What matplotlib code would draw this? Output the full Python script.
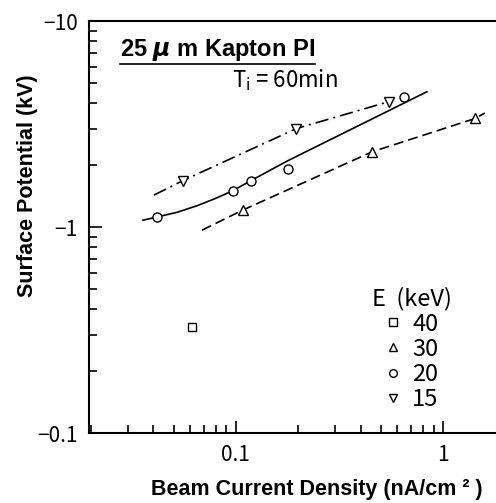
import numpy as np
import matplotlib
matplotlib.use("Agg")
import matplotlib.pyplot as plt
from matplotlib.lines import Line2D
from matplotlib.ticker import FixedLocator, LogLocator, NullFormatter

# measured points (beam current density nA/cm2, surface potential kV)
x_40 = [0.0614]
v_40 = [-0.328]
x_30 = [0.108, 0.454, 1.43]
v_30 = [-1.21, -2.32, -3.37]
x_20 = [0.0416, 0.0964, 0.118, 0.178, 0.644]
v_20 = [-1.12, -1.50, -1.68, -1.91, -4.29]
x_15 = [0.0554, 0.196, 0.546]
v_15 = [-1.68, -3.01, -4.06]

# hand drawn fit curves
fit_x_30 = [0.0687, 0.108, 0.454, 1.43, 1.59]
fit_v_30 = [-0.967, -1.21, -2.32, -3.37, -3.58]
fit_x_20 = [0.0356, 0.0416, 0.052, 0.065, 0.080, 0.0964, 0.118, 0.178, 0.835]
fit_v_20 = [-1.08, -1.12, -1.18, -1.27, -1.38, -1.50, -1.68, -2.10, -4.54]
fit_x_15 = [0.0402, 0.0554, 0.196, 0.546]
fit_v_15 = [-1.43, -1.68, -3.01, -4.06]

energies = ["40", "30", "20", "15"]
markers = ["s", "^", "o", "v"]

x_ticks = [0.1, 1]
x_ticklabels = ["0.1", "1"]
y_ticks = [0.1, 1, 10]
y_ticklabels = ["\u22120.1", "\u22121", "\u221210"]

jp = ["Noto Sans CJK JP", "DejaVu Sans"]
bold = ["Liberation Sans", "DejaVu Sans"]

fig = plt.figure(figsize=(4.96, 5.03), dpi=100)
ax = fig.add_axes([0.179, 0.139, 0.821, 0.819])

lw = 1.2
ax.plot(fit_x_20, -np.array(fit_v_20), color="black", lw=lw, ls="-")
ax.plot(fit_x_30, -np.array(fit_v_30), color="black", lw=lw, dashes=(6, 3))
ax.plot(fit_x_15, -np.array(fit_v_15), color="black", lw=lw, dashes=(8, 3, 1.2, 3))

mk = dict(ls="none", mfc="white", mec="black", mew=1.0, zorder=3)
ax.plot(x_40, -np.array(v_40), marker="s", ms=6, **mk)
ax.plot(x_30, -np.array(v_30), marker="^", ms=7, **mk)
ax.plot(x_20, -np.array(v_20), marker="o", ms=6.5, **mk)
ax.plot(x_15, -np.array(v_15), marker="v", ms=7, **mk)

ax.set_xscale("log")
ax.set_yscale("log")
ax.set_xlim(0.0195, 1.8)
ax.set_ylim(0.1, 10)

ax.xaxis.set_major_locator(FixedLocator(x_ticks))
ax.set_xticklabels(x_ticklabels, family=jp, fontsize=15)
ax.xaxis.set_minor_locator(LogLocator(base=10, subs=np.arange(2, 10)))
ax.xaxis.set_minor_formatter(NullFormatter())
ax.yaxis.set_major_locator(FixedLocator(y_ticks))
ax.set_yticklabels(y_ticklabels, family=jp, fontsize=15)
ax.yaxis.set_minor_locator(LogLocator(base=10, subs=np.arange(2, 10)))
ax.yaxis.set_minor_formatter(NullFormatter())

ax.tick_params(which="both", direction="in", width=1.2, color="black")
ax.tick_params(which="major", length=9, pad=8)
ax.tick_params(which="minor", length=6)
ax.tick_params(axis="x", which="both", top=False)
ax.tick_params(axis="y", which="both", right=False)

for s in ["left", "bottom", "top"]:
    ax.spines[s].set_linewidth(1.5)
ax.spines["right"].set_visible(False)

ax.set_xlabel("Beam Current Density (nA/cm \u00b2 )", family=bold,
              fontweight="bold", fontsize=15.5)
ax.xaxis.set_label_coords(0.56, -0.112)
ax.set_ylabel("Surface Potential (kV)", family=bold, fontweight="bold",
              fontsize=15.5)
ax.yaxis.set_label_coords(-0.125, 0.6)

title = ax.text(0.076, 0.915, r"25 $\boldsymbol{\mu}$ m Kapton PI",
                transform=ax.transAxes, family=bold, fontweight="bold",
                fontsize=17, va="baseline", ha="left")
ax.text(0.351, 0.84, r"T$_\mathregular{i}$ = 60min", transform=ax.transAxes,
        family=jp, fontsize=16, va="baseline", ha="left")

handles = [Line2D([], [], ls="none", marker=m, ms=5.5, mfc="white",
                  mec="black", mew=1.0) for m in markers]
leg = ax.legend(handles, energies, title="E  (keV)", loc="upper left",
                bbox_to_anchor=(0.695, 0.355), frameon=False, borderpad=0,
                borderaxespad=0, handlelength=0.7, handletextpad=0.45,
                labelspacing=0.09, prop=dict(family=jp, size=17),
                title_fontproperties=dict(family=jp, size=17))

# underline under the heading text
fig.canvas.draw()
bb = title.get_window_extent()
fig.add_artist(Line2D([bb.x0, bb.x1], [bb.y0 - 1, bb.y0 - 1],
                      transform=None, color="black", lw=1.2))

fig.savefig("out.png", dpi=100)
